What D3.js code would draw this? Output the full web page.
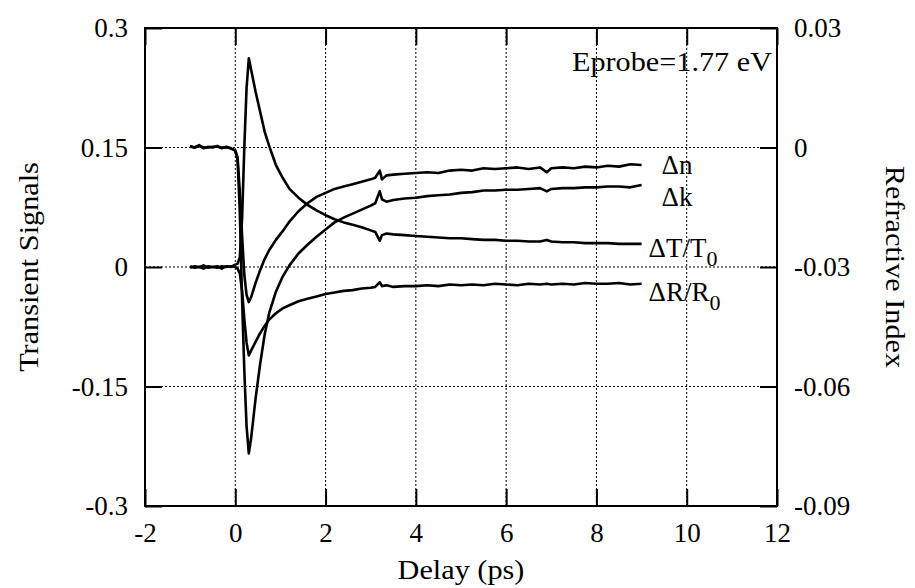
<!DOCTYPE html>
<html>
<head>
<meta charset="utf-8">
<script src="https://cdn.jsdelivr.net/npm/d3@7"></script>
<style>
  body { margin: 0; background: #fff; }
</style>
</head>
<body>
<div class="chart"></div>
<script>
// delay (ps)
const delay = [-1.0,-0.9,-0.8,-0.7,-0.6,-0.5,-0.4,-0.3,-0.2,-0.1,0.0,0.05,0.1,0.15,0.2,0.25,0.3,0.35,
  0.45,0.55,0.65,0.75,0.9,1.05,1.2,1.4,1.6,1.8,2.0,2.2,2.4,2.6,2.8,3.0,3.1,3.2,3.25,3.35,3.5,3.75,
  4.0,4.25,4.5,4.75,5.0,5.25,5.5,5.75,6.0,6.25,6.5,6.75,6.9,7.0,7.25,7.5,7.75,8.0,8.25,8.5,8.75,9.0];

// Δn (plotted on the transient-signal axis)
const dn = [0.152,0.150,0.153,0.149,0.151,0.150,0.152,0.149,0.151,0.149,0.146,0.138,0.095,0.040,-0.010,-0.035,-0.044,-0.038,
  -0.020,-0.004,0.010,0.021,0.034,0.045,0.057,0.070,0.080,0.088,0.093,0.098,0.101,0.104,0.107,0.110,0.112,0.121,0.110,0.115,0.116,0.117,
  0.118,0.119,0.118,0.121,0.122,0.121,0.124,0.123,0.124,0.125,0.123,0.125,0.119,0.124,0.125,0.124,0.126,0.125,0.127,0.126,0.129,0.128];

// Δk
const dk = [0.151,0.150,0.152,0.150,0.150,0.151,0.151,0.150,0.150,0.149,0.146,0.135,0.070,-0.040,-0.130,-0.200,-0.234,-0.215,
  -0.165,-0.122,-0.085,-0.058,-0.031,-0.012,0.002,0.017,0.028,0.038,0.047,0.056,0.062,0.067,0.072,0.077,0.080,0.095,0.085,0.082,0.084,0.086,
  0.087,0.089,0.090,0.091,0.093,0.094,0.096,0.096,0.097,0.097,0.098,0.099,0.095,0.098,0.099,0.099,0.100,0.100,0.101,0.101,0.100,0.103];

// ΔT/T0
const dT = [0.001,-0.001,0.000,0.002,-0.001,0.000,0.001,-0.002,0.001,0.000,0.003,0.004,0.012,0.060,0.150,0.225,0.262,0.248,
  0.220,0.195,0.170,0.152,0.128,0.112,0.098,0.087,0.078,0.071,0.065,0.060,0.056,0.053,0.050,0.046,0.044,0.033,0.040,0.042,0.041,0.040,
  0.039,0.038,0.037,0.036,0.036,0.035,0.034,0.034,0.033,0.033,0.032,0.032,0.034,0.032,0.031,0.031,0.030,0.030,0.030,0.029,0.029,0.029];

// ΔR/R0
const dR = [-0.001,0.001,0.000,-0.002,0.001,0.000,-0.001,0.001,0.000,0.001,0.000,-0.002,-0.008,-0.030,-0.065,-0.095,-0.111,-0.105,
  -0.094,-0.083,-0.074,-0.066,-0.058,-0.052,-0.048,-0.043,-0.040,-0.037,-0.034,-0.032,-0.030,-0.029,-0.027,-0.026,-0.025,-0.019,-0.024,-0.023,-0.025,-0.024,
  -0.024,-0.023,-0.024,-0.022,-0.023,-0.022,-0.023,-0.021,-0.022,-0.023,-0.021,-0.022,-0.021,-0.022,-0.021,-0.022,-0.020,-0.021,-0.021,-0.020,-0.022,-0.021];

const xTicks = [-2,0,2,4,6,8,10,12];
const yTicks = [-0.3,-0.15,0,0.15,0.3];
const yTickLabels = ["-0.3","-0.15","0","0.15","0.3"];
const rTicks = [-0.09,-0.06,-0.03,0,0.03];
const rTickLabels = ["-0.09","-0.06","-0.03","0","0.03"];

let margin = {top:28, right:138, left:145, bottom:82};
let outWidth = 915, outHeight = 588;
let width = outWidth - margin.left - margin.right,
    height = outHeight - margin.top - margin.bottom;

const serif = "Liberation Serif";
const fs = 27;
const stretch = "scale(1.12,1)";

const svg = d3.select('.chart').append('svg')
  .attr("width", outWidth)
  .attr("height", outHeight);

const g = svg.append("g")
  .attr("transform", `translate(${margin.left}, ${margin.top})`);

const xScale = d3.scaleLinear().domain([-2,12]).range([0,width]);
const yScale = d3.scaleLinear().domain([-0.3,0.3]).range([height,0]);
const rScale = d3.scaleLinear().domain([-0.09,0.03]).range([height,0]);

// dotted grid
g.append("g").selectAll("line.gx")
  .data(xTicks.filter(d => d > -2 && d < 12))
  .enter().append("line")
  .attr("x1", d => xScale(d)).attr("x2", d => xScale(d))
  .attr("y1", 0).attr("y2", height)
  .attr("stroke", "#000").attr("stroke-width", 1).attr("stroke-dasharray", "2,2");
g.append("g").selectAll("line.gy")
  .data(yTicks.filter(d => d > -0.3 && d < 0.3))
  .enter().append("line")
  .attr("x1", 0).attr("x2", width)
  .attr("y1", d => yScale(d)).attr("y2", d => yScale(d))
  .attr("stroke", "#000").attr("stroke-width", 1).attr("stroke-dasharray", "2,2");

const tickLen = 17, pad = 17;

const xAxis = d3.axisBottom(xScale).tickValues(xTicks).tickFormat(d => String(d))
  .tickSizeInner(-tickLen).tickSizeOuter(0).tickPadding(pad);
const xTop = d3.axisTop(xScale).tickValues(xTicks).tickFormat("")
  .tickSizeInner(-tickLen).tickSizeOuter(0);
const yAxis = d3.axisLeft(yScale).tickValues(yTicks).tickFormat((d,i) => yTickLabels[i])
  .tickSizeInner(-tickLen).tickSizeOuter(0).tickPadding(pad);
const rAxis = d3.axisRight(rScale).tickValues(rTicks).tickFormat((d,i) => rTickLabels[i])
  .tickSizeInner(-tickLen).tickSizeOuter(0).tickPadding(pad);

function styleAxis(sel){
  sel.attr("font-family", serif).attr("font-size", fs);
  sel.select(".domain").remove();
  sel.selectAll(".tick line").attr("stroke", "#000").attr("stroke-width", 2);
  sel.selectAll(".tick text").attr("fill", "#000");
}

g.append("g").attr("class", "axis x-axis")
  .attr("transform", `translate(0, ${height})`)
  .call(xAxis).call(styleAxis);
g.append("g").attr("class", "axis x-top").call(xTop).call(styleAxis);
g.append("g").attr("class", "axis y-axis").call(yAxis).call(styleAxis);
g.append("g").attr("class", "axis r-axis")
  .attr("transform", `translate(${width}, 0)`)
  .call(rAxis).call(styleAxis);

// frame
g.append("rect")
  .attr("x", 0).attr("y", 0).attr("width", width).attr("height", height)
  .attr("fill", "none").attr("stroke", "#000").attr("stroke-width", 2);

// curves
const line = d3.line()
  .x((d,i) => xScale(delay[i]))
  .y(d => yScale(d));

[dn, dk, dT, dR].forEach(series => {
  g.append("path")
    .datum(series)
    .attr("d", line)
    .attr("fill", "none")
    .attr("stroke", "#000")
    .attr("stroke-width", 2.6)
    .attr("stroke-linejoin", "round");
});

function txt(parent){
  return parent.append("text")
    .attr("font-family", serif).attr("font-size", fs).attr("fill", "#000");
}

// curve labels
const lx = xScale(9);
function lab(x, y, main, sub){
  const t = txt(g).attr("x", x).attr("y", y);
  t.append("tspan").text(main);
  if (sub) t.append("tspan").attr("dy", 9).attr("font-size", 22).text(sub);
}
lab(lx + 20, yScale(0.128) + 9, "Δn");
lab(lx + 20, yScale(0.103) + 21, "Δk");
lab(lx + 7, yScale(0.029) + 13, "ΔT/T", "0");
lab(lx + 7, yScale(-0.021) + 17, "ΔR/R", "0");

txt(g)
  .attr("transform", `translate(${width - 5}, 43) ${stretch}`)
  .attr("text-anchor", "end")
  .text("Eprobe=1.77 eV");

// axis titles
txt(svg)
  .attr("transform", `translate(${margin.left + width / 2}, 579) ${stretch}`)
  .attr("text-anchor", "middle")
  .text("Delay (ps)");

txt(svg)
  .attr("transform", `translate(38, ${margin.top + height / 2}) rotate(-90) ${stretch}`)
  .attr("text-anchor", "middle")
  .text("Transient Signals");

txt(svg)
  .attr("transform", `translate(886, ${margin.top + height / 2}) rotate(90) ${stretch}`)
  .attr("text-anchor", "middle")
  .text("Refractive Index");
</script>
</body>
</html>
